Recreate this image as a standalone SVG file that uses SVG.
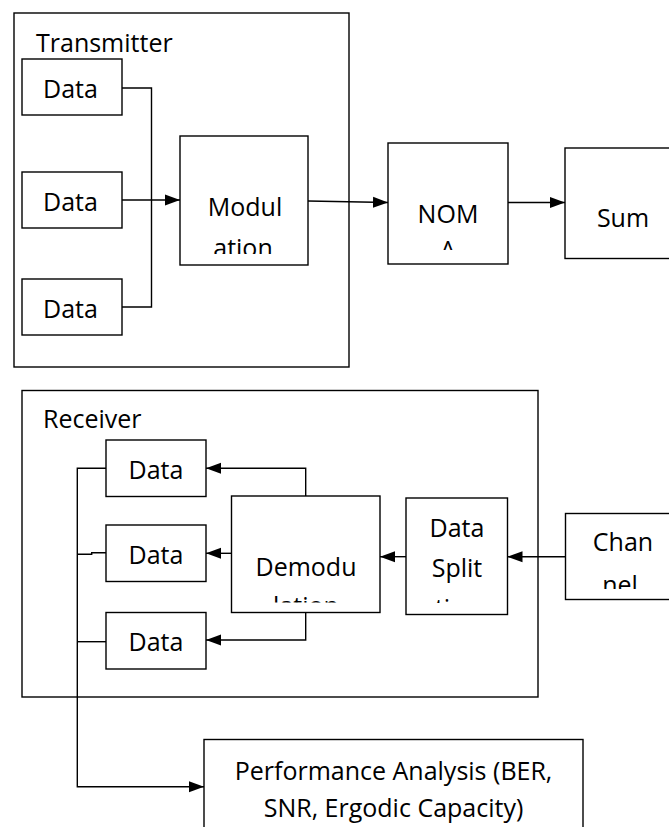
<svg xmlns="http://www.w3.org/2000/svg" width="669" height="827" viewBox="0 0 669 827">
<style>
.b{fill:#fff;stroke:#000;stroke-width:1.4}
.f{fill:none;stroke:#000;stroke-width:1.4}
.c{fill:none;stroke:#000;stroke-width:1.4}
text{font-family:"Open Sans","Noto Sans",sans-serif;font-size:25px;fill:#000}
.m{text-anchor:middle}
</style>
<defs>
<marker id="ah" markerUnits="userSpaceOnUse" markerWidth="16" markerHeight="12" refX="15" refY="6" orient="auto">
<path d="M0,0.5 L15,6 L0,11.5 z" fill="#000"/>
</marker>
<clipPath id="cMod"><rect x="180" y="136" width="128" height="118"/></clipPath>
<clipPath id="cNom"><rect x="388" y="143" width="120" height="107"/></clipPath>
<clipPath id="cDem"><rect x="231" y="496" width="149" height="106.5"/></clipPath>
<clipPath id="cSpl"><rect x="406" y="498" width="102" height="105"/></clipPath>
<clipPath id="cCh"><rect x="565" y="513" width="110" height="76"/></clipPath>
</defs>
<rect width="669" height="827" fill="#fff"/>

<g id="transmitter">
<rect class="f" x="14" y="13" width="335" height="354"/>
<text x="36" y="52">Transmitter</text>
</g>
<g id="receiver">
<rect class="f" x="22" y="390.5" width="516" height="306.5"/>
<text x="43" y="428">Receiver</text>
</g>

<g id="tx-data1"><rect class="b" x="22" y="59" width="100" height="56"/><text class="m" x="70.5" y="98">Data</text></g>
<g id="tx-data2"><rect class="b" x="22" y="172" width="100" height="56"/><text class="m" x="70.5" y="211">Data</text></g>
<g id="tx-data3"><rect class="b" x="22" y="279" width="100" height="56"/><text class="m" x="70.5" y="318">Data</text></g>

<g id="modulation"><rect class="b" x="180" y="136" width="128" height="129"/>
<g clip-path="url(#cMod)"><text class="m" x="245" y="216">Modul</text><text class="m" x="243" y="256.5">ation</text></g></g>

<g id="noma"><rect class="b" x="388" y="143" width="120" height="121"/>
<g clip-path="url(#cNom)"><text class="m" x="448" y="223">NOM</text><text class="m" x="448" y="259">A</text></g></g>

<g id="sum"><rect class="b" x="565" y="148" width="120" height="110.5"/><text class="m" x="623" y="227">Sum</text></g>

<g id="rx-data1"><rect class="b" x="106" y="440" width="100" height="56.5"/><text class="m" x="156" y="479">Data</text></g>
<g id="rx-data2"><rect class="b" x="106" y="525" width="100" height="56.5"/><text class="m" x="156" y="563.5">Data</text></g>
<g id="rx-data3"><rect class="b" x="106" y="612.5" width="100" height="56.5"/><text class="m" x="156" y="651">Data</text></g>

<g id="demodulation"><rect class="b" x="231.5" y="496" width="148.5" height="116.5"/>
<g clip-path="url(#cDem)"><text class="m" x="306" y="575.5">Demodu</text><text class="m" x="306" y="615">lation</text></g></g>

<g id="data-split"><rect class="b" x="406" y="498" width="101.5" height="116.5"/>
<g clip-path="url(#cSpl)"><text class="m" x="457" y="536.5">Data</text><text class="m" x="457" y="577">Split</text><text class="m" x="457" y="617">ting</text></g></g>

<g id="channel"><rect class="b" x="565.5" y="513.5" width="120" height="86"/>
<g clip-path="url(#cCh)"><text class="m" x="623" y="550.5">Chan</text><text class="m" x="620" y="594">nel</text></g></g>

<g id="performance"><rect class="b" x="204" y="739.5" width="379" height="110"/>
<text class="m" x="393.5" y="780">Performance Analysis (BER,</text>
<text class="m" x="393.5" y="817">SNR, Ergodic Capacity)</text></g>

<g id="connectors">
<path class="c" d="M122,88 H151.5 V307 H122"/>
<path class="c" d="M122,200 H180" marker-end="url(#ah)"/>
<path class="c" d="M308,201 L388,202.5" marker-end="url(#ah)"/>
<path class="c" d="M508,202.5 H565" marker-end="url(#ah)"/>
<path class="c" d="M305.7,496 V468.3 H206" marker-end="url(#ah)"/>
<path class="c" d="M231.5,553.3 H206" marker-end="url(#ah)"/>
<path class="c" d="M305.7,612.5 V640 H206" marker-end="url(#ah)"/>
<path class="c" d="M406,556.7 H380" marker-end="url(#ah)"/>
<path class="c" d="M565.5,556.7 H507.5" marker-end="url(#ah)"/>
<path class="c" d="M106,468.3 H77.3 V786.7 H204" marker-end="url(#ah)"/>
<path class="c" d="M106,552.7 H91.7 V554.3 H77.3"/>
<path class="c" d="M106,641.7 H77.3"/>
</g>
</svg>
